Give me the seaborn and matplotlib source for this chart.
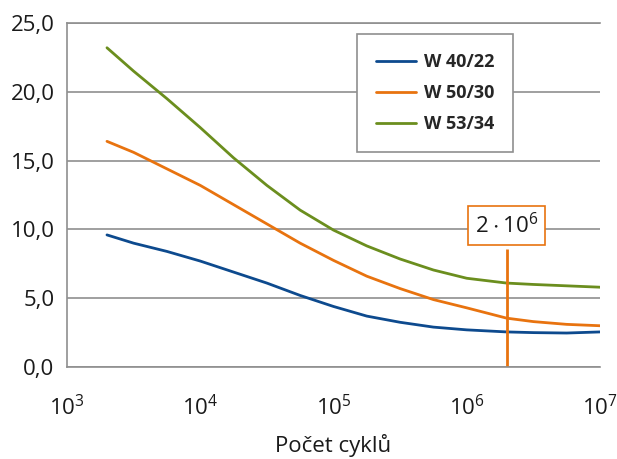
import pandas as pd
import matplotlib
matplotlib.use("Agg")
import matplotlib.pyplot as plt
import seaborn as sns

# Data (log10 of cycles -> value)
log_cycles = [3.3, 3.5, 3.75, 4.0, 4.25, 4.5, 4.75, 5.0, 5.25, 5.5, 5.75, 6.0, 6.3, 6.5, 6.75, 7.0]
w40_22 = [9.6, 9.0, 8.4, 7.7, 6.9, 6.1, 5.2, 4.4, 3.7, 3.25, 2.9, 2.7, 2.55, 2.5, 2.47, 2.55]
w50_30 = [16.4, 15.6, 14.4, 13.2, 11.8, 10.4, 9.0, 7.75, 6.6, 5.7, 4.9, 4.3, 3.55, 3.3, 3.1, 3.0]
w53_34 = [23.2, 21.5, 19.5, 17.4, 15.2, 13.2, 11.4, 9.95, 8.8, 7.85, 7.05, 6.45, 6.1, 6.0, 5.9, 5.8]
series_names = ["W 40/22", "W 50/30", "W 53/34"]
colors = ["#0d4a8e", "#e8730f", "#6b8e1e"]

y_ticks = [0, 5, 10, 15, 20, 25]
y_labels = ["0,0", "5,0", "10,0", "15,0", "20,0", "25,0"]
x_ticks = [1e3, 1e4, 1e5, 1e6, 1e7]
x_labels = ["$\\mathregular{10^{3}}$", "$\\mathregular{10^{4}}$", "$\\mathregular{10^{5}}$",
            "$\\mathregular{10^{6}}$", "$\\mathregular{10^{7}}$"]

marker_x = 2e6
marker_top = 8.6
marker_label = "$\\mathregular{2 \\cdot 10^{6}}$"

# Build long table
rows = []
for name, vals in zip(series_names, [w40_22, w50_30, w53_34]):
    for lx, v in zip(log_cycles, vals):
        rows.append({"cycles": 10 ** lx, "value": v, "type": name})
df = pd.DataFrame(rows)

sns.set_style("white")
plt.rcParams["font.family"] = ["Open Sans", "DejaVu Sans"]
plt.rcParams["mathtext.fontset"] = "custom"
plt.rcParams["mathtext.rm"] = "Open Sans"

fig = plt.figure(figsize=(6.17, 4.59), dpi=100)
ax = fig.add_axes([0.1086, 0.2004, 0.8638, 0.7495])

sns.lineplot(data=df, x="cycles", y="value", hue="type", palette=colors,
             linewidth=2.0, ax=ax)
ax.set_xscale("log")
ax.set_xlim(1e3, 1e7)
ax.set_ylim(0, 25)

# Grid and spines
grid_c = "#8f8f8f"
ax.set_yticks(y_ticks)
ax.set_yticklabels(y_labels, fontsize=16, color="#1a1a1a")
ax.set_xticks(x_ticks)
ax.set_xticklabels(x_labels, fontsize=16, color="#1a1a1a")
ax.minorticks_off()
ax.yaxis.grid(True, color=grid_c, linewidth=1.2)
ax.xaxis.grid(False)
for s in ["left", "bottom", "top"]:
    ax.spines[s].set_color(grid_c)
    ax.spines[s].set_linewidth(1.2)
ax.spines["right"].set_visible(False)
ax.tick_params(axis="x", direction="out", length=12, width=1.2, color=grid_c, pad=8)
ax.tick_params(axis="y", direction="out", length=7, width=1.2, color=grid_c, pad=2)

ax.set_xlabel("Počet cyklů", fontsize=16, color="#1a1a1a", labelpad=10)
ax.set_ylabel("")

# Marker at 2e6 cycles
ax.vlines(marker_x, 0, marker_top, color=colors[1], linewidth=2.0)
ax.text(marker_x, 10.3, marker_label, fontsize=16, ha="center", va="center",
        color="#1a1a1a",
        bbox=dict(boxstyle="square,pad=0.3", facecolor="white", edgecolor=colors[1], linewidth=1.2))

# Legend
handles, labels = ax.get_legend_handles_labels()
leg = ax.legend(handles, labels, loc="upper left", bbox_to_anchor=(0.544, 0.968),
                borderaxespad=0, frameon=True, fancybox=False, framealpha=1,
                edgecolor="#8f8f8f", prop={"weight": "bold", "size": 13},
                handlelength=2.2, labelspacing=0.72, borderpad=1.05, handletextpad=0.45)
leg.get_frame().set_linewidth(1.2)
leg.set_title(None)

fig.savefig("out.png", dpi=100)
